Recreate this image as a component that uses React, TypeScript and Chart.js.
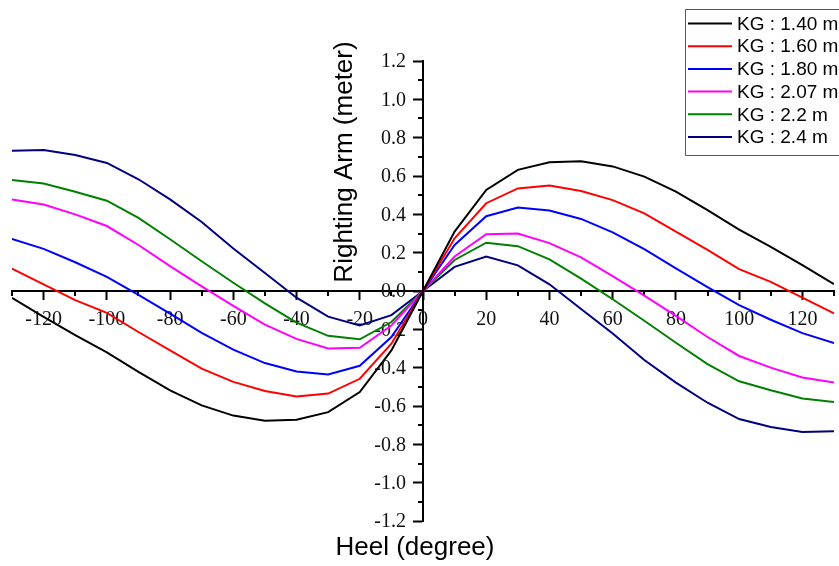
import { useEffect, useRef } from "react";
import { Chart, registerables } from "chart.js";

Chart.register(...registerables);

// Heel angle (degrees) at which the righting arm was evaluated
const heelAngles = [
  -130, -120, -110, -100, -90, -80, -70, -60, -50, -40, -30, -20, -10, 0,
  10, 20, 30, 40, 50, 60, 70, 80, 90, 100, 110, 120, 130,
];

// Righting arm (m) for each KG condition
const kg140 = [
  -0.036, -0.135, -0.23, -0.32, -0.422, -0.518, -0.597, -0.65, -0.677, -0.672, -0.632, -0.527, -0.31, 0,
  0.31, 0.527, 0.632, 0.672, 0.677, 0.65, 0.597, 0.518, 0.422, 0.32, 0.23, 0.135, 0.036,
];
const kg160 = [
  0.117, 0.035, -0.048, -0.114, -0.214, -0.31, -0.405, -0.474, -0.522, -0.55, -0.535, -0.458, -0.275, 0,
  0.275, 0.458, 0.535, 0.55, 0.522, 0.474, 0.405, 0.31, 0.214, 0.114, 0.048, -0.035, -0.117,
];
const kg180 = [
  0.272, 0.22, 0.15, 0.074, -0.02, -0.118, -0.218, -0.306, -0.376, -0.42, -0.435, -0.39, -0.24, 0,
  0.24, 0.39, 0.435, 0.42, 0.376, 0.306, 0.218, 0.118, 0.02, -0.074, -0.15, -0.22, -0.272,
];
const kg207 = [
  0.478, 0.451, 0.4, 0.339, 0.24, 0.13, 0.024, -0.078, -0.176, -0.25, -0.3, -0.296, -0.18, 0,
  0.18, 0.296, 0.3, 0.25, 0.176, 0.078, -0.024, -0.13, -0.24, -0.339, -0.4, -0.451, -0.478,
];
const kg220 = [
  0.579, 0.561, 0.518, 0.471, 0.381, 0.27, 0.155, 0.043, -0.065, -0.165, -0.234, -0.252, -0.162, 0,
  0.162, 0.252, 0.234, 0.165, 0.065, -0.043, -0.155, -0.27, -0.381, -0.471, -0.518, -0.561, -0.579,
];
const kg240 = [
  0.732, 0.735, 0.71, 0.668, 0.583, 0.478, 0.36, 0.222, 0.094, -0.035, -0.134, -0.18, -0.126, 0,
  0.126, 0.18, 0.134, 0.035, -0.094, -0.222, -0.36, -0.478, -0.583, -0.668, -0.71, -0.735, -0.732,
];

const seriesValues = [kg140, kg160, kg180, kg207, kg220, kg240];
const seriesLabels = [
  "KG : 1.40 m",
  "KG : 1.60 m",
  "KG : 1.80 m",
  "KG : 2.07 m",
  "KG : 2.2 m",
  "KG : 2.4 m",
];
const seriesColors = ["#000000", "#ff0000", "#0000ff", "#ff00ff", "#008000", "#000080"];

// Axis ticks
const xMajorTicks = [-120, -100, -80, -60, -40, -20, 0, 20, 40, 60, 80, 100, 120];
const xMinorTicks = [-130, -110, -90, -70, -50, -30, -10, 10, 30, 50, 70, 90, 110, 130];
const yMajorTicks = [-1.2, -1.0, -0.8, -0.6, -0.4, -0.2, 0.0, 0.2, 0.4, 0.6, 0.8, 1.0, 1.2];
const yMinorTicks = [-1.1, -0.9, -0.7, -0.5, -0.3, -0.1, 0.1, 0.3, 0.5, 0.7, 0.9, 1.1];

const xTitle = "Heel (degree)";
const yTitle = "Righting Arm (meter)";

const SANS = '"Liberation Sans", Arial, sans-serif';
const SERIF = '"Liberation Serif", "Times New Roman", serif';

// Minor ticks and y labels on the crossing axes, plus the axis titles and the boxed legend
const decorations = {
  id: "decorations",
  beforeDatasetsDraw(chart: any) {
    const { ctx, scales } = chart;
    const xs = scales.x;
    const ys = scales.y;
    const x0 = xs.getPixelForValue(0);
    const y0 = ys.getPixelForValue(0);
    ctx.save();
    ctx.strokeStyle = "#000";
    ctx.lineWidth = 2;
    ctx.beginPath();
    for (const v of xMinorTicks) {
      const px = Math.round(xs.getPixelForValue(v));
      ctx.moveTo(px, y0);
      ctx.lineTo(px, y0 + 5);
    }
    for (const v of yMinorTicks) {
      const py = Math.round(ys.getPixelForValue(v));
      ctx.moveTo(x0, py);
      ctx.lineTo(x0 - 5, py);
    }
    ctx.stroke();

    // y tick labels sit left of the tick marks
    ctx.fillStyle = "#111";
    ctx.font = `20px ${SERIF}`;
    ctx.textAlign = "right";
    ctx.textBaseline = "middle";
    for (const v of yMajorTicks) {
      ctx.fillText(v.toFixed(1), x0 - 17, ys.getPixelForValue(v) + 1);
    }
    ctx.restore();
  },
  afterDraw(chart: any) {
    const { ctx, chartArea } = chart;
    ctx.save();
    ctx.fillStyle = "#000";
    ctx.font = `26px ${SANS}`;
    ctx.textAlign = "center";
    ctx.textBaseline = "middle";
    ctx.fillText(xTitle, 415, chartArea.bottom + 27);

    ctx.save();
    ctx.translate(345, 162);
    ctx.rotate(-Math.PI / 2);
    ctx.fillText(yTitle, 0, 0);
    ctx.restore();

    // legend box
    const boxLeft = 685.5;
    const boxTop = 9.5;
    const rowH = 22.7;
    ctx.strokeStyle = "#555";
    ctx.lineWidth = 1;
    ctx.fillStyle = "#fff";
    ctx.beginPath();
    ctx.rect(boxLeft, boxTop, 200, 146);
    ctx.fill();
    ctx.stroke();
    ctx.font = `19px ${SANS}`;
    ctx.textAlign = "left";
    ctx.textBaseline = "middle";
    chart.data.datasets.forEach((ds: any, i: number) => {
      const y = 23.5 + i * rowH;
      ctx.strokeStyle = ds.borderColor;
      ctx.lineWidth = 2;
      ctx.beginPath();
      ctx.moveTo(688, y);
      ctx.lineTo(732, y);
      ctx.stroke();
      ctx.fillStyle = "#000";
      ctx.fillText(ds.label, 737, y + 1);
    });
    ctx.restore();
  },
};

export default function App() {
  const ref = useRef<HTMLCanvasElement>(null);

  useEffect(() => {
    const canvas = ref.current;
    if (!canvas) return;
    const chart = new Chart(canvas, {
      type: "line",
      data: {
        datasets: seriesValues.map((vals, i) => ({
          label: seriesLabels[i],
          data: heelAngles.map((x, j) => ({ x, y: vals[j] })),
          borderColor: seriesColors[i],
          backgroundColor: seriesColors[i],
          borderWidth: 2,
          pointRadius: 0,
          tension: 0,
          fill: false,
        })),
      },
      options: {
        responsive: false,
        animation: false,
        layout: { padding: { left: 12, right: 5, top: 61, bottom: 45 } },
        plugins: {
          legend: { display: false },
          tooltip: { enabled: false },
          title: { display: false },
        },
        scales: {
          x: {
            type: "linear",
            min: -130,
            max: 130,
            position: { y: 0 } as any,
            afterBuildTicks: (scale: any) => {
              scale.ticks = xMajorTicks.map((v) => ({ value: v }));
            },
            grid: {
              display: true,
              drawOnChartArea: false,
              drawTicks: true,
              tickLength: 8,
              tickWidth: 2,
              tickColor: "#000",
            },
            border: { display: true, color: "#000", width: 2 },
            ticks: {
              autoSkip: false,
              maxRotation: 0,
              padding: 9,
              color: "#111",
              font: { family: SERIF, size: 20 },
              callback: (v: any) => String(v),
            },
          },
          y: {
            type: "linear",
            min: -1.2,
            max: 1.2,
            position: { x: 0 } as any,
            afterBuildTicks: (scale: any) => {
              scale.ticks = yMajorTicks.map((v) => ({ value: v }));
            },
            grid: {
              display: true,
              drawOnChartArea: false,
              drawTicks: true,
              tickLength: 9,
              tickWidth: 2,
              tickColor: "#000",
            },
            border: { display: true, color: "#000", width: 2 },
            ticks: {
              display: false,
            },
          },
        },
      },
      plugins: [decorations],
    });
    return () => chart.destroy();
  }, []);

  return (
    <div style={{ position: "fixed", left: 0, top: 0, width: 839, height: 566, background: "#fff" }}>
      <canvas ref={ref} width={839} height={566} style={{ display: "block" }} />
    </div>
  );
}
